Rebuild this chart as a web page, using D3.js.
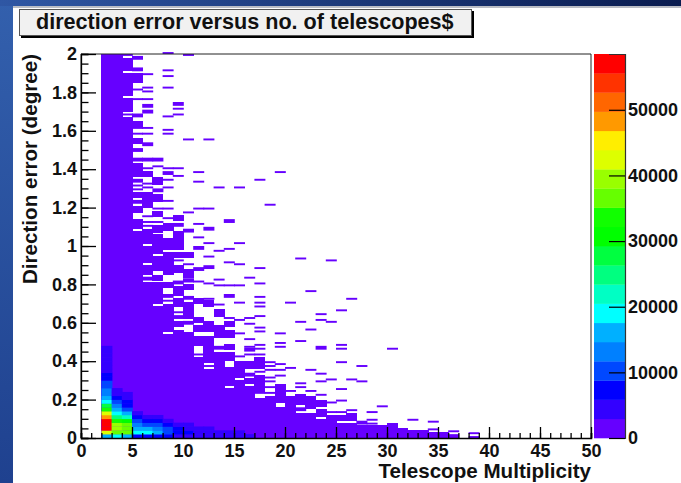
<!DOCTYPE html>
<html>
<head>
<meta charset="utf-8">
<script src="https://cdn.jsdelivr.net/npm/d3@7"></script>
<style>
  html, body { margin: 0; padding: 0; background: #fff; }
  text { font-family: "Liberation Sans", Arial, sans-serif; font-weight: bold; fill: #111; }
</style>
</head>
<body>
<div id="chart"></div>
<script>
// Chart text
const titleText = "direction error versus no. of telescopes$";
const xTitle = "Telescope Multiplicity";
const yTitle = "Direction error (degree)";

// Axis ticks
const xMajorTicks = [0, 5, 10, 15, 20, 25, 30, 35, 40, 45, 50];
const yMajorTicks = [0, 0.2, 0.4, 0.6, 0.8, 1, 1.2, 1.4, 1.6, 1.8, 2];
const zTicks = [0, 10000, 20000, 30000, 40000, 50000];

// Palette levels, low to high
const paletteColors = [
  "#6600ff", "#3300ff", "#0000ff", "#0048ff", "#0080ff",
  "#00b0ff", "#00ffff", "#00ffc4", "#00ff80", "#00ff40",
  "#00ff00", "#11ff00", "#66ff00", "#99ff00", "#ddff00",
  "#ffee00", "#ff9900", "#ff6600", "#ff3300", "#ff0000"
];
const maxCount = 58500;

// Occupied cells per multiplicity: [multiplicity, [[first bin, last bin], ...]]
// y bins are 0.01 degree wide
const yBinWidth = 0.01;
const occupiedRuns = [
  [2, [[0, 199]]],
  [3, [[0, 199]]],
  [4, [[0, 166], [168, 168], [170, 176], [178, 189], [191, 197], [199, 199]]],
  [5, [[0, 107], [109, 113], [117, 120], [122, 123], [125, 127], [129, 129], [131, 131], [133, 134], [136, 142], [144, 145], [149, 150], [153, 155], [158, 158], [161, 161], [162, 164], [167, 168], [176, 176], [181, 181], [185, 189], [191, 192], [197, 198]]],
  [6, [[0, 80], [82, 83], [85, 89], [91, 99], [101, 108], [110, 110], [112, 112], [115, 115], [120, 127], [130, 130], [132, 132], [136, 138], [140, 140], [144, 145], [152, 153], [158, 158], [161, 161], [169, 170], [172, 173], [176, 176], [180, 180], [182, 182], [189, 189]]],
  [7, [[0, 68], [70, 80], [82, 84], [87, 94], [96, 105], [107, 110], [112, 112], [115, 117], [119, 119], [123, 126], [128, 129], [132, 135], [141, 141], [144, 145]]],
  [8, [[0, 53], [55, 69], [71, 71], [73, 74], [78, 80], [85, 96], [98, 103], [108, 111], [114, 114], [119, 119], [123, 123], [130, 130], [134, 134], [137, 138], [140, 140], [158, 158], [160, 160], [167, 167], [182, 182], [188, 188], [191, 191], [200, 200]]],
  [9, [[0, 55], [58, 60], [62, 63], [65, 65], [68, 72], [74, 78], [80, 81], [86, 89], [92, 92], [94, 96], [98, 104], [105, 107], [110, 111], [113, 115], [136, 136], [140, 140], [168, 168], [171, 171], [173, 174]]],
  [10, [[0, 54], [59, 60], [62, 70], [72, 73], [77, 79], [81, 82], [83, 84], [85, 87], [90, 90], [94, 96], [107, 108], [117, 117], [155, 155], [199, 199]]],
  [11, [[0, 41], [43, 43], [48, 52], [55, 58], [60, 62], [70, 72], [81, 81], [87, 88], [98, 99], [104, 104], [111, 111], [119, 119], [133, 133], [138, 138]]],
  [12, [[0, 35], [37, 37], [39, 52], [55, 60], [68, 71], [72, 72], [80, 80], [88, 89], [94, 94], [101, 101], [108, 109], [119, 119], [155, 155]]],
  [13, [[0, 44], [46, 47], [52, 58], [63, 66], [69, 69], [79, 79], [82, 82], [97, 97], [130, 130]]],
  [14, [[0, 25], [27, 36], [40, 44], [46, 48], [52, 55], [58, 60], [62, 62], [73, 74], [79, 79], [91, 91], [98, 98], [112, 113]]],
  [15, [[0, 29], [31, 35], [36, 39], [42, 42], [54, 54], [61, 61], [70, 70], [79, 79], [90, 90], [101, 101], [130, 130]]],
  [16, [[0, 26], [28, 30], [32, 33], [36, 39], [43, 43], [45, 46], [47, 47], [51, 51], [59, 59], [62, 62], [83, 83]]],
  [17, [[0, 20], [23, 23], [24, 32], [34, 34], [36, 41], [43, 43], [46, 46], [48, 48], [55, 55], [57, 57], [63, 63], [68, 68], [70, 70], [73, 73], [80, 80], [88, 88], [134, 134]]],
  [18, [[0, 21], [23, 23], [26, 26], [29, 29], [31, 31], [35, 35], [37, 37], [39, 39], [121, 121]]],
  [19, [[0, 15], [18, 22], [23, 27], [32, 32], [35, 35], [38, 38], [47, 47], [49, 49], [54, 54], [138, 138]]],
  [20, [[0, 21], [24, 24], [36, 36], [70, 70]]],
  [21, [[0, 12], [14, 15], [17, 22], [26, 26], [28, 28], [50, 50], [60, 60], [93, 93]]],
  [22, [[0, 12], [15, 21], [24, 24], [35, 35], [56, 56], [76, 76]]],
  [23, [[0, 9], [11, 14], [16, 19], [22, 22], [29, 29], [33, 33], [46, 47], [61, 61], [64, 64]]],
  [24, [[0, 11], [13, 13], [18, 18], [30, 30], [60, 60], [92, 92]]],
  [25, [[0, 7], [9, 11], [13, 13], [19, 19], [25, 25], [39, 39], [46, 46], [48, 48], [66, 66]]],
  [26, [[0, 7], [9, 12], [14, 14], [30, 30], [72, 72]]],
  [27, [[0, 6], [7, 8], [29, 29], [37, 37]]],
  [28, [[0, 6], [7, 7], [9, 9], [13, 13]]],
  [29, [[0, 6], [16, 16]]],
  [30, [[0, 7], [46, 46]]],
  [31, [[0, 4]]],
  [32, [[0, 3], [9, 9]]],
  [33, [[0, 3]]],
  [34, [[0, 2], [4, 4], [8, 8]]],
  [35, [[0, 2]]],
  [36, [[0, 1], [3, 3]]],
  [38, [[0, 0], [2, 2]]]
];

// Counts of the busy low rows, 0.02 degree bins from y = 0 upward
const lowBinWidth = 0.02;
const lowCounts = [
  [2, [16000, 42000, 57500, 58000, 57500, 49000, 41500, 33000, 26500, 20000, 17000, 14500, 12500, 10000, 9000, 7500, 6500, 5000, 4500, 4200, 3800, 3500, 3200, 3000]],
  [3, [18000, 37000, 40000, 40000, 35000, 25000, 20000, 16000, 13000, 10000, 7500, 5000, 4000]],
  [4, [15000, 36500, 38000, 37000, 31000, 22000, 16500, 11000, 8000, 7000, 5000, 4000]],
  [5, [7000, 20000, 17000, 12000, 9000, 6500, 4000]],
  [6, [7000, 18000, 15000, 11000, 8000, 4000]],
  [7, [6000, 17000, 12000, 9000, 7000, 4000]],
  [8, [6000, 10000, 9000, 6500, 4000]],
  [9, [5500, 8500, 6500, 4000]],
  [10, [4500, 6500, 5000, 3500]],
  [11, [4000, 5000, 3500]],
  [12, [3500, 4500, 3000]],
  [13, [3000, 4000]],
  [14, [3000, 3500]],
  [15, [3000, 3200]],
  [16, [3000]]
];

// Set dimensions
const width = 681;
const height = 483;
const frame = { left: 81, right: 591, top: 54, bottom: 438 };
const paletteBox = { left: 594, right: 625 };
const tickFont = 18;

const svg = d3.select("#chart")
  .append("svg")
  .attr("width", width)
  .attr("height", height)
  .style("display", "block");

// Slide background around the white page
const defs = svg.append("defs");
const topGrad = defs.append("linearGradient").attr("id", "topGrad");
topGrad.append("stop").attr("offset", "0%").attr("stop-color", "#2f57a4");
topGrad.append("stop").attr("offset", "100%").attr("stop-color", "#0a1c50");
const sideGrad = defs.append("linearGradient").attr("id", "sideGrad").attr("x2", 0).attr("y2", 1);
sideGrad.append("stop").attr("offset", "0%").attr("stop-color", "#3360ad");
sideGrad.append("stop").attr("offset", "100%").attr("stop-color", "#1f418f");

svg.append("rect").attr("width", 13).attr("height", height).attr("fill", "url(#sideGrad)");
svg.append("rect").attr("width", width).attr("height", 6).attr("fill", "url(#topGrad)");
svg.append("rect").attr("x", 13).attr("y", 6).attr("width", width - 13).attr("height", 2).attr("fill", "#b9bcc4");

// Scales
const x = d3.scaleLinear().domain([0, 50]).range([frame.left, frame.right]);
const y = d3.scaleLinear().domain([0, 2]).range([frame.bottom, frame.top]);
const z = d3.scaleLinear().domain([0, maxCount]).range([frame.bottom, frame.top]);
const color = d3.scaleQuantize().domain([0, maxCount]).range(paletteColors);

// Overlap so neighbouring columns do not show seams
const cellOverlap = 0.8;
const cellWidth = d => x(d.multiplicity + 1) - x(d.multiplicity) + cellOverlap;

// Occupied cells, all in the lowest palette level
const runCells = occupiedRuns.flatMap(([multiplicity, runs]) =>
  runs.map(([first, last]) => ({ multiplicity, first, last })));

svg.append("g").selectAll("rect")
  .data(runCells)
  .enter()
  .append("rect")
  .attr("x", d => x(d.multiplicity))
  .attr("y", d => y((d.last + 1) * yBinWidth))
  .attr("width", cellWidth)
  .attr("height", d => y(d.first * yBinWidth) - y((d.last + 1) * yBinWidth))
  .attr("fill", paletteColors[0])
  // long runs snap to pixels, single bins stay soft like the reference
  .attr("shape-rendering", d => d.last - d.first >= 2 ? "crispEdges" : "auto");

// Busy low rows on top, coloured by count
const lowCells = lowCounts.flatMap(([multiplicity, counts]) =>
  counts.map((count, i) => ({ multiplicity, i, count })));

svg.append("g").selectAll("rect")
  .data(lowCells)
  .enter()
  .append("rect")
  .attr("x", d => x(d.multiplicity))
  .attr("y", d => y((d.i + 1) * lowBinWidth))
  .attr("width", cellWidth)
  .attr("height", d => y(d.i * lowBinWidth) - y((d.i + 1) * lowBinWidth) + 0.3)
  .attr("fill", d => color(d.count));

// Frame
svg.append("path")
  .attr("d", `M${frame.left},${frame.bottom}V${frame.top}H${frame.right}V${frame.bottom}`)
  .attr("fill", "none")
  .attr("stroke", "#222")
  .attr("stroke-width", 1);

// X axis, ticks point into the plot
const xAxis = svg.append("g").attr("transform", `translate(0,${frame.bottom})`);
xAxis.call(d3.axisBottom(x).tickValues(d3.range(0, 51, 1)).tickSize(-5).tickFormat(""))
  .call(g => g.select(".domain").attr("stroke", "#000").attr("stroke-width", 1.6));
xAxis.append("g")
  .call(d3.axisBottom(x).tickValues(xMajorTicks).tickSize(-11).tickPadding(4).tickFormat(d3.format("d")))
  .call(g => g.select(".domain").remove())
  .call(g => g.selectAll("text")
    .attr("y", 6)
    .attr("font-size", tickFont)
    .attr("font-family", "Liberation Sans")
    .attr("font-weight", "bold")
    .attr("fill", "#111"));
xAxis.selectAll("line").attr("stroke", "#000").attr("stroke-width", 1.3);

// Y axis
const yAxis = svg.append("g").attr("transform", `translate(${frame.left},0)`);
yAxis.call(d3.axisLeft(y).tickValues(d3.range(0, 41).map(i => i * 0.05)).tickSize(-7.5).tickFormat(""))
  .call(g => g.select(".domain").attr("stroke", "#000").attr("stroke-width", 1.3));
yAxis.append("g")
  .call(d3.axisLeft(y).tickValues(yMajorTicks).tickSize(-15).tickPadding(4).tickFormat(d3.format("~g")))
  .call(g => g.select(".domain").remove())
  .call(g => g.selectAll("text")
    .attr("x", -4)
    .attr("font-size", tickFont)
    .attr("font-family", "Liberation Sans")
    .attr("font-weight", "bold")
    .attr("fill", "#111"));
yAxis.selectAll("line").attr("stroke", "#000").attr("stroke-width", 1.3);

// Palette bar
svg.append("g").selectAll("rect")
  .data(paletteColors)
  .enter()
  .append("rect")
  .attr("x", paletteBox.left)
  .attr("y", (d, i) => z((i + 1) * maxCount / paletteColors.length))
  .attr("width", paletteBox.right - paletteBox.left)
  .attr("height", (frame.bottom - frame.top) / paletteColors.length + 0.3)
  .attr("fill", d => d);

const zAxis = svg.append("g").attr("transform", `translate(${paletteBox.right},0)`);
zAxis.call(d3.axisRight(z).tickValues(zTicks).tickSize(-16).tickPadding(4).tickFormat(d3.format("d")))
  .call(g => g.select(".domain").attr("stroke", "#333").attr("stroke-width", 1.2))
  .call(g => g.selectAll("line").attr("stroke", "#000").attr("stroke-width", 1.2))
  .call(g => g.selectAll("text")
    .attr("x", 3)
    .attr("font-size", tickFont)
    .attr("font-family", "Liberation Sans")
    .attr("font-weight", "bold")
    .attr("fill", "#111"));

// Axis titles
svg.append("text")
  .attr("x", frame.right)
  .attr("y", 478)
  .attr("text-anchor", "end")
  .attr("font-size", 20.6)
  .text(xTitle);

svg.append("text")
  .attr("transform", `translate(37,${frame.top}) rotate(-90)`)
  .attr("text-anchor", "end")
  .attr("font-size", 20.6)
  .text(yTitle);

// Title box with drop shadow
svg.append("rect").attr("x", 21).attr("y", 11).attr("width", 453).attr("height", 27).attr("fill", "#000");
svg.append("rect").attr("x", 19.5).attr("y", 9.5).attr("width", 452).attr("height", 26)
  .attr("fill", "#f1f1f1").attr("stroke", "#555").attr("stroke-width", 1);
svg.append("text")
  .attr("x", 36)
  .attr("y", 29)
  .attr("font-size", 21.6)
  .text(titleText);
</script>
</body>
</html>
